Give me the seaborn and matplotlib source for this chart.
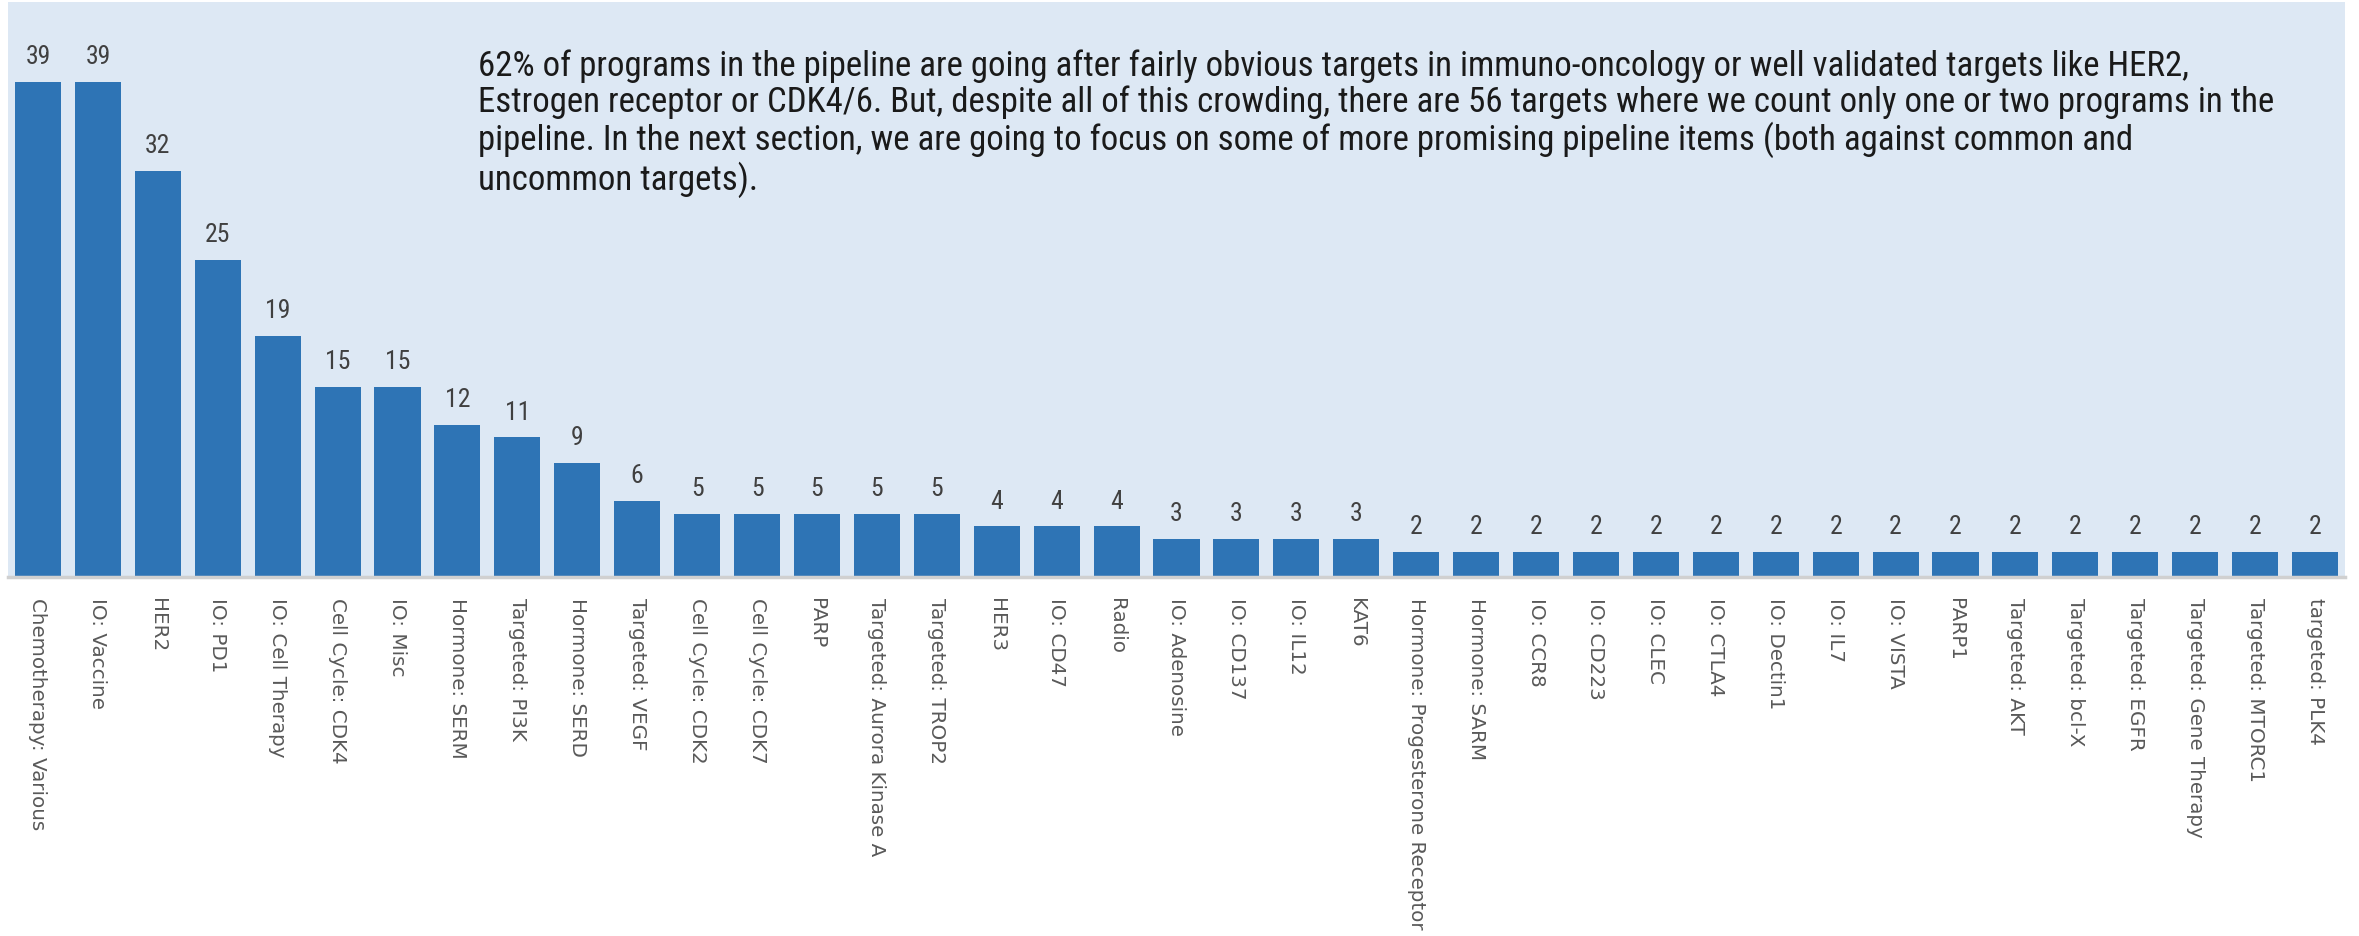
import matplotlib
matplotlib.use("Agg")
import matplotlib.pyplot as plt
from matplotlib import font_manager
import seaborn as sns
import pandas as pd

categories = [
    "Chemotherapy: Various", "IO: Vaccine", "HER2", "IO: PD1", "IO: Cell Therapy",
    "Cell Cycle: CDK4", "IO: Misc", "Hormone: SERM", "Targeted: PI3K", "Hormone: SERD",
    "Targeted: VEGF", "Cell Cycle: CDK2", "Cell Cycle: CDK7", "PARP",
    "Targeted: Aurora Kinase A", "Targeted: TROP2", "HER3", "IO: CD47", "Radio",
    "IO: Adenosine", "IO: CD137", "IO: IL12", "KAT6", "Hormone: Progesterone Receptor",
    "Hormone: SARM", "IO: CCR8", "IO: CD223", "IO: CLEC", "IO: CTLA4", "IO: Dectin1",
    "IO: IL7", "IO: VISTA", "PARP1", "Targeted: AKT", "Targeted: bcl-X",
    "Targeted: EGFR", "Targeted: Gene Therapy", "Targeted: MTORC1", "targeted: PLK4",
]
programs = [39, 39, 32, 25, 19, 15, 15, 12, 11, 9, 6, 5, 5, 5, 5, 5, 4, 4, 4,
            3, 3, 3, 3, 2, 2, 2, 2, 2, 2, 2, 2, 2, 2, 2, 2, 2, 2, 2, 2]

note = ("62% of programs in the pipeline are going after fairly obvious targets in immuno-oncology or well validated targets like HER2,\n"
        "Estrogen receptor or CDK4/6. But, despite all of this crowding, there are 56 targets where we count only one or two programs in the\n"
        "pipeline. In the next section, we are going to focus on some of more promising pipeline items (both against common and\n"
        "uncommon targets).")

BAR = "#2e74b5"
PANEL = "#dde8f4"

sns.set_theme(style="white")


def _weight(w):
    if isinstance(w, str):
        return {"light": 300, "normal": 400, "regular": 400, "book": 400,
                "medium": 500}.get(w.lower(), 700)
    return int(w)


# a narrow family with a regular (non-bold) upright face, if one is available
regular_faces = {f.name for f in font_manager.fontManager.ttflist
                 if _weight(f.weight) <= 450 and f.style == "normal"}
narrow = next((f for f in ["Liberation Sans Narrow", "DejaVu Sans Condensed",
                           "Open Sans Condensed", "Roboto Condensed",
                           "Noto Sans Display", "Roboto", "Lato"]
               if f in regular_faces), "DejaVu Sans")
plt.rcParams["font.family"] = ["DejaVu Sans"]

df = pd.DataFrame({"target": categories, "count": programs})

fig = plt.figure(figsize=(23.59, 9.36), dpi=100)
ax = fig.add_axes([8 / 2359, 1 - 577 / 936, (2345 - 8) / 2359, (577 - 2) / 936])
ax.set_facecolor(PANEL)

sns.barplot(data=df, x="target", y="count", color=BAR, saturation=1,
            width=0.77, ax=ax, edgecolor="none")

ax.set_xlim(-0.5, len(categories) - 0.5)
ax.set_ylim(0, 45.3)
ax.set_xlabel("")
ax.set_ylabel("")
ax.set_yticks([])

for s in ["top", "left", "right"]:
    ax.spines[s].set_visible(False)
ax.spines["bottom"].set_color("#d0d0d0")
ax.spines["bottom"].set_linewidth(2.5)

ax.tick_params(axis="x", length=0, pad=15)
ax.set_xticks(range(len(categories)))
ax.set_xticklabels(categories, rotation=270, ha="center", va="top",
                   fontsize=14.3, color="#595959")

for i, v in enumerate(programs):
    ax.annotate(str(v), (i, v), xytext=(0, 9), textcoords="offset points",
                ha="center", va="bottom", fontsize=18.5, color="#404040",
                family=narrow, fontweight="normal")

# size the paragraph so its widest line spans the free area of the panel
renderer = fig.canvas.get_renderer()
widest = 0
for line in note.split("\n"):
    probe = fig.text(0, 0, line, fontsize=22, family=narrow, fontweight="normal")
    widest = max(widest, probe.get_window_extent(renderer).width)
    probe.remove()
size = 22 * (2275 - 478) / widest

ax.text(478 / 2359, 1 - 49 / 936, note, transform=fig.transFigure,
        ha="left", va="top", fontsize=size, color="#1a1a1a", family=narrow,
        fontweight="normal", linespacing=1.25 * 37 / (size * 100 / 72) / 1.2)

fig.savefig("out.png", dpi=100, facecolor="white")
